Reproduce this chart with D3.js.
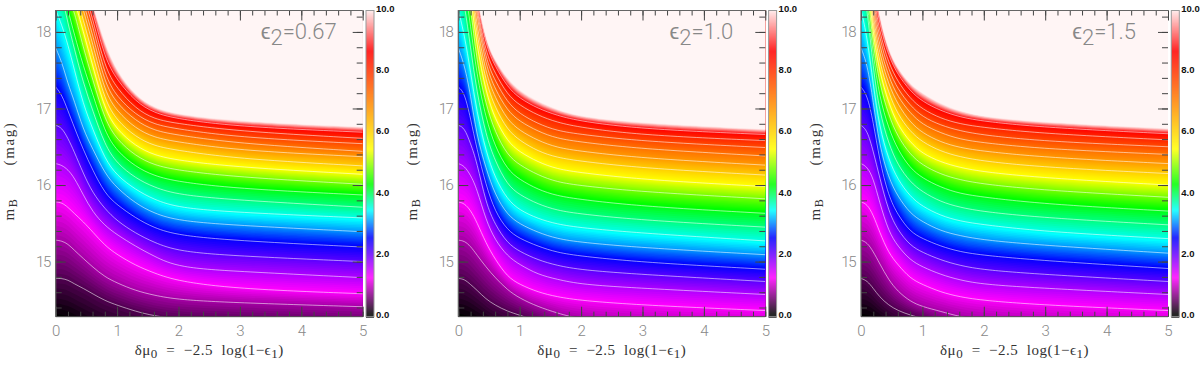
<!DOCTYPE html>
<html>
<head>
<meta charset="utf-8">
<script src="https://cdn.jsdelivr.net/npm/d3@7"></script>
<style>
  body { margin:0; background:#fff; }
  svg { display:block; }
  .tick-label text { font-family:Roboto,"Liberation Sans",sans-serif; font-weight:300; font-size:15px; fill:#888; }
  .axis-title { font-family:"Liberation Serif",serif; font-size:15px; fill:#333; }
  .panel-label { font-family:Roboto,"Liberation Sans",sans-serif; font-weight:300; font-size:22px; fill:#888; }
  .bar-label { font-family:"Liberation Sans",sans-serif; font-size:9.5px; font-weight:bold; fill:#111; }
</style>
</head>
<body>
<script>
// delta mu_0 columns every contour is read at
var deltaMu = [0, 0.1, 0.2, 0.3, 0.45, 0.6, 0.8, 1, 1.3, 1.6, 2, 3, 5];

// colour value carried by each contour row, first row is the black floor, last the pale edge
var zLevels = [0, 0.4, 0.8, 1.2, 1.63, 2.07, 2.5, 3.05, 3.5, 3.85, 4.2, 4.8, 5.4, 6.05, 6.7, 7.2, 7.7, 8.15, 8.6, 10];

// which rows get a white contour line
var whiteRows = d3.range(1, 19);

var floorRow = [14.25, 14.24, 14.22, 14.18, 14.12, 14.06, 14.0, 13.95, 13.9, 13.88, 13.85, 13.8, 13.75];

// m_B of the contours, panel by panel, rows bottom to top
var magsA = [
  floorRow,
  [14.78, 14.78, 14.76, 14.71, 14.65, 14.58, 14.49, 14.43, 14.35, 14.29, 14.25, 14.22, 14.15],
  [15.28, 15.27, 15.23, 15.15, 15.04, 14.93, 14.80, 14.72, 14.62, 14.56, 14.50, 14.46, 14.41],
  [15.78, 15.77, 15.71, 15.63, 15.52, 15.39, 15.21, 15.09, 14.95, 14.85, 14.74, 14.64, 14.58],
  [16.28, 16.26, 16.20, 16.10, 15.87, 15.65, 15.47, 15.35, 15.20, 15.07, 14.92, 14.87, 14.79],
  [16.78, 16.75, 16.61, 16.44, 16.15, 15.90, 15.69, 15.53, 15.37, 15.25, 15.13, 15.07, 15.00],
  [17.28, 17.18, 16.97, 16.76, 16.46, 16.20, 15.89, 15.74, 15.57, 15.44, 15.34, 15.27, 15.19],
  [17.79, 17.61, 17.32, 17.11, 16.72, 16.48, 16.15, 15.96, 15.76, 15.63, 15.53, 15.47, 15.39],
  [18.29, 18.09, 17.83, 17.52, 17.05, 16.74, 16.34, 16.12, 15.94, 15.81, 15.70, 15.64, 15.57],
  [18.79, 18.48, 18.11, 17.79, 17.33, 16.98, 16.52, 16.28, 16.09, 15.97, 15.87, 15.80, 15.71],
  [19.00, 18.66, 18.28, 17.98, 17.55, 17.20, 16.69, 16.44, 16.24, 16.12, 16.04, 15.95, 15.87],
  [19.18, 18.83, 18.48, 18.28, 17.79, 17.39, 16.85, 16.59, 16.38, 16.26, 16.19, 16.10, 16.01],
  [19.35, 19.00, 18.66, 18.44, 18.00, 17.57, 16.98, 16.72, 16.51, 16.39, 16.32, 16.23, 16.14],
  [19.50, 19.18, 18.81, 18.59, 18.15, 17.72, 17.10, 16.84, 16.63, 16.51, 16.45, 16.34, 16.25],
  [19.66, 19.33, 18.96, 18.74, 18.28, 17.86, 17.21, 16.96, 16.74, 16.62, 16.56, 16.45, 16.37],
  [19.81, 19.48, 19.11, 18.87, 18.37, 17.98, 17.32, 17.06, 16.84, 16.71, 16.65, 16.54, 16.44],
  [19.96, 19.63, 19.24, 19.00, 18.47, 18.10, 17.42, 17.15, 16.92, 16.79, 16.73, 16.62, 16.54],
  [20.09, 19.79, 19.37, 19.13, 18.57, 18.19, 17.53, 17.26, 17.00, 16.86, 16.80, 16.70, 16.61],
  [20.22, 19.92, 19.50, 19.26, 18.68, 18.28, 17.65, 17.37, 17.09, 16.94, 16.86, 16.76, 16.69],
  [20.35, 20.05, 19.63, 19.40, 18.79, 18.37, 17.85, 17.48, 17.17, 17.01, 16.92, 16.83, 16.76]
];

var magsB = [
  floorRow,
  [14.78, 14.77, 14.70, 14.63, 14.51, 14.43, 14.35, 14.30, 14.22, 14.15, 14.06, 14.00, 13.91],
  [15.28, 15.27, 15.20, 15.09, 14.93, 14.79, 14.63, 14.52, 14.41, 14.33, 14.24, 14.18, 14.11],
  [15.78, 15.76, 15.67, 15.52, 15.24, 15.03, 14.80, 14.70, 14.60, 14.54, 14.49, 14.43, 14.36],
  [16.28, 16.25, 16.13, 15.96, 15.54, 15.28, 15.07, 14.96, 14.83, 14.77, 14.70, 14.65, 14.57],
  [16.78, 16.75, 16.54, 16.31, 15.76, 15.48, 15.24, 15.13, 15.02, 14.95, 14.89, 14.83, 14.74],
  [17.28, 17.21, 16.87, 16.48, 16.00, 15.65, 15.41, 15.30, 15.20, 15.12, 15.07, 14.99, 14.90],
  [17.79, 17.57, 17.18, 16.65, 16.22, 15.87, 15.61, 15.49, 15.38, 15.30, 15.25, 15.18, 15.09],
  [18.29, 17.96, 17.48, 16.96, 16.44, 16.09, 15.81, 15.67, 15.56, 15.49, 15.44, 15.37, 15.27],
  [18.74, 18.37, 17.79, 17.22, 16.65, 16.31, 16.00, 15.87, 15.75, 15.67, 15.62, 15.54, 15.45],
  [19.00, 18.61, 18.09, 17.44, 16.87, 16.50, 16.20, 16.07, 15.94, 15.86, 15.81, 15.72, 15.63],
  [19.18, 18.79, 18.35, 17.61, 17.05, 16.69, 16.39, 16.26, 16.13, 16.04, 15.99, 15.91, 15.82],
  [19.35, 18.96, 18.48, 17.83, 17.21, 16.86, 16.57, 16.43, 16.30, 16.21, 16.16, 16.07, 15.98],
  [19.48, 19.09, 18.61, 17.98, 17.34, 17.01, 16.72, 16.58, 16.44, 16.36, 16.31, 16.22, 16.13],
  [19.61, 19.22, 18.74, 18.09, 17.45, 17.14, 16.85, 16.71, 16.58, 16.49, 16.44, 16.35, 16.26],
  [19.74, 19.35, 18.85, 18.22, 17.55, 17.25, 16.97, 16.83, 16.70, 16.61, 16.56, 16.47, 16.38],
  [19.87, 19.48, 18.96, 18.30, 17.63, 17.36, 17.08, 16.93, 16.80, 16.71, 16.66, 16.57, 16.49],
  [20.00, 19.61, 19.07, 18.35, 17.72, 17.46, 17.18, 17.04, 16.91, 16.82, 16.75, 16.65, 16.58],
  [20.13, 19.74, 19.18, 18.42, 17.81, 17.55, 17.28, 17.13, 17.00, 16.91, 16.83, 16.73, 16.66],
  [20.27, 19.87, 19.29, 18.48, 17.89, 17.63, 17.39, 17.23, 17.09, 16.99, 16.89, 16.81, 16.73]
];

var magsC = [
  floorRow,
  [14.78, 14.75, 14.65, 14.54, 14.43, 14.36, 14.30, 14.26, 14.17, 14.11, 14.04, 13.98, 13.91],
  [15.28, 15.25, 15.13, 14.98, 14.76, 14.61, 14.48, 14.41, 14.35, 14.28, 14.23, 14.17, 14.09],
  [15.78, 15.75, 15.61, 15.39, 15.11, 14.96, 14.78, 14.70, 14.60, 14.54, 14.49, 14.43, 14.36],
  [16.28, 16.24, 16.09, 15.78, 15.39, 15.20, 15.02, 14.93, 14.83, 14.76, 14.70, 14.65, 14.57],
  [16.78, 16.72, 16.44, 16.11, 15.65, 15.41, 15.21, 15.12, 15.02, 14.95, 14.89, 14.83, 14.74],
  [17.28, 17.18, 16.83, 16.33, 15.85, 15.61, 15.39, 15.30, 15.20, 15.13, 15.08, 15.01, 14.91],
  [17.79, 17.59, 17.09, 16.52, 16.09, 15.85, 15.63, 15.52, 15.40, 15.34, 15.28, 15.21, 15.11],
  [18.29, 17.94, 17.31, 16.76, 16.33, 16.07, 15.85, 15.72, 15.60, 15.53, 15.48, 15.39, 15.30],
  [18.74, 18.31, 17.52, 16.96, 16.54, 16.26, 16.04, 15.91, 15.78, 15.71, 15.65, 15.57, 15.48],
  [19.00, 18.39, 17.70, 17.15, 16.74, 16.46, 16.22, 16.09, 15.97, 15.89, 15.84, 15.75, 15.66],
  [19.18, 18.57, 17.83, 17.33, 16.91, 16.63, 16.40, 16.26, 16.14, 16.07, 16.01, 15.93, 15.84],
  [19.35, 18.74, 17.96, 17.48, 17.07, 16.78, 16.56, 16.41, 16.30, 16.23, 16.17, 16.09, 16.00],
  [19.48, 18.87, 18.07, 17.61, 17.20, 16.92, 16.70, 16.56, 16.44, 16.37, 16.31, 16.23, 16.15],
  [19.61, 19.00, 18.18, 17.72, 17.31, 17.05, 16.82, 16.68, 16.56, 16.49, 16.44, 16.36, 16.28],
  [19.74, 19.13, 18.29, 17.82, 17.41, 17.15, 16.94, 16.79, 16.68, 16.60, 16.55, 16.47, 16.40],
  [19.87, 19.26, 18.39, 17.92, 17.50, 17.25, 17.04, 16.89, 16.78, 16.71, 16.65, 16.57, 16.50],
  [20.00, 19.39, 18.50, 18.00, 17.59, 17.35, 17.13, 16.99, 16.87, 16.80, 16.75, 16.67, 16.59],
  [20.13, 19.52, 18.61, 18.09, 17.68, 17.44, 17.23, 17.09, 16.97, 16.89, 16.83, 16.75, 16.67],
  [20.27, 19.66, 18.74, 18.20, 17.76, 17.52, 17.32, 17.20, 17.06, 16.97, 16.89, 16.82, 16.74]
];

var panelMags = [magsA, magsB, magsC];
var panelNames = ["0.67", "1.0", "1.5"];
var xTickValues = [0, 1, 2, 3, 4, 5];
var yTickValues = [15, 16, 17, 18];
var barTickValues = [0, 2, 4, 6, 8, 10];

// colour ramp
var rampStops = [0, 1.2, 2.5, 3.4, 4.25, 5.4, 8.6, 10];
var rampColors = ["#000000", "#ff00ff", "#0000ff", "#00ffff", "#00ff00", "#ffff00", "#ff0000", "#fff5f5"];

var color = d3.scaleLinear().domain(rampStops).range(rampColors).interpolate(d3.interpolateRgb);

var panelLeft = [55.7, 458.3, 861];
var labelInset = [26, 32, 32];
var plotW = 307, plotTop = 10.5, plotBottom = 316.7, barGap = 3.3, barW = 8;

var svg = d3.select("body").append("svg").attr("width", 1200).attr("height", 365);

function drawPanel(i) {
  var rows = panelMags[i];
  var g = svg.append("g").attr("transform", "translate(" + panelLeft[i] + ",0)");

  var x = d3.scaleLinear().domain([0, 5]).range([0, plotW]);
  var y = d3.scaleLinear().domain([14.28, 18.28]).range([plotBottom, plotTop]);

  var clipId = "plot" + i;
  g.append("clipPath").attr("id", clipId).append("rect")
    .attr("x", 0).attr("y", plotTop).attr("width", plotW).attr("height", plotBottom - plotTop);

  var field = g.append("g").attr("clip-path", "url(#" + clipId + ")");
  field.append("rect").attr("x", 0).attr("y", plotTop)
    .attr("width", plotW).attr("height", plotBottom - plotTop).attr("fill", "#000");

  // one scale per column turns a colour value into a magnitude
  var columnScales = deltaMu.map(function(d, c) {
    return d3.scaleLinear().domain(zLevels).range(rows.map(function(r) { return r[c]; }));
  });

  var area = d3.area()
    .x(function(d) { return x(d); })
    .y0(plotTop - 5)
    .curve(d3.curveBasis);

  d3.range(0, 10.001, 0.05).forEach(function(z) {
    area.y1(function(d, c) { return y(columnScales[c](z)); });
    field.append("path").attr("d", area(deltaMu)).attr("fill", color(z));
  });

  var line = d3.line()
    .x(function(d, c) { return x(deltaMu[c]); })
    .y(function(d) { return y(d); })
    .curve(d3.curveBasis);

  field.selectAll(".contour").data(whiteRows).enter().append("path")
    .attr("class", "contour")
    .attr("d", function(r) { return line(rows[r]); })
    .attr("fill", "none")
    .attr("stroke", "#fff")
    .attr("stroke-opacity", 0.55)
    .attr("stroke-width", 1);

  // ticks on all four sides, pointing in
  var minorX = d3.range(0, 5.001, 0.2), minorY = d3.range(14.4, 18.28, 0.2);
  function ticks(axis, move, values, size) {
    var a = g.append("g").attr("transform", move)
      .call(axis.tickValues(values).tickSize(-size).tickSizeOuter(0).tickFormat(""));
    a.select(".domain").remove();
    a.selectAll("line").attr("stroke", "#444");
  }
  ticks(d3.axisBottom(x), "translate(0," + plotBottom + ")", minorX, 5);
  ticks(d3.axisBottom(x), "translate(0," + plotBottom + ")", xTickValues, 10);
  ticks(d3.axisTop(x), "translate(0," + plotTop + ")", minorX, 5);
  ticks(d3.axisTop(x), "translate(0," + plotTop + ")", xTickValues, 10);
  ticks(d3.axisLeft(y), "translate(0,0)", minorY, 6);
  ticks(d3.axisLeft(y), "translate(0,0)", yTickValues, 10);
  ticks(d3.axisRight(y), "translate(" + plotW + ",0)", minorY, 6);
  ticks(d3.axisRight(y), "translate(" + plotW + ",0)", yTickValues, 10);

  // frame
  g.append("path")
    .attr("d", "M0," + plotBottom + "V" + plotTop + "H" + plotW)
    .attr("fill", "none").attr("stroke", "#666").attr("stroke-width", 1.2);
  g.append("path")
    .attr("d", "M0," + plotBottom + "H" + plotW)
    .attr("fill", "none").attr("stroke", "#555").attr("stroke-width", 1);

  // tick labels
  var xl = g.append("g").attr("class", "tick-label").attr("transform", "translate(0," + plotBottom + ")")
    .call(d3.axisBottom(x).tickValues(xTickValues).tickSize(0).tickPadding(9).tickFormat(d3.format("d")));
  xl.select(".domain").remove();
  var yl = g.append("g").attr("class", "tick-label")
    .call(d3.axisLeft(y).tickValues(yTickValues).tickSize(0).tickPadding(6).tickFormat(d3.format("d")));
  yl.select(".domain").remove();
  yl.selectAll("text").style("letter-spacing", "-1.5px");

  // axis titles
  var xt = g.append("text").attr("class", "axis-title")
    .attr("x", plotW / 2).attr("y", 355).attr("text-anchor", "middle").attr("xml:space", "preserve")
    .style("letter-spacing", "0.5px");
  xt.append("tspan").text("\u03b4\u03bc");
  xt.append("tspan").attr("dy", 3).attr("font-size", 13).text("0");
  xt.append("tspan").attr("dy", -3).text("  =  \u22122.5  log(1\u2212\u03f5");
  xt.append("tspan").attr("dy", 3).attr("font-size", 13).text("1");
  xt.append("tspan").attr("dy", -3).text(")");

  var yt = g.append("text").attr("class", "axis-title")
    .attr("transform", "translate(-41.5,171) rotate(-90)")
    .attr("text-anchor", "middle").attr("xml:space", "preserve").style("letter-spacing", "1.6px");
  yt.append("tspan").text("m");
  yt.append("tspan").attr("dy", 3).attr("font-size", 12).text("B");
  yt.append("tspan").attr("dy", -3).text("      (mag)");

  // panel label
  var pl = g.append("text").attr("class", "panel-label")
    .attr("x", plotW - labelInset[i]).attr("y", 39).attr("text-anchor", "end");
  pl.append("tspan").text("\u03f5");
  pl.append("tspan").attr("dy", 6).text("2");
  pl.append("tspan").attr("dy", -6).text("=" + panelNames[i]);

  // colour bar
  var barX = plotW + barGap;
  var barY = d3.scaleLinear().domain([0, 10]).range([314.5, 8.5]);
  var bar = g.append("g");
  d3.range(plotTop, plotBottom, 1).forEach(function(py) {
    var z = Math.max(0, Math.min(10, barY.invert(py + 0.5)));
    bar.append("rect").attr("x", barX).attr("y", py).attr("width", barW).attr("height", 1.2).attr("fill", color(z));
  });
  bar.append("rect").attr("x", barX).attr("y", plotTop).attr("width", barW).attr("height", plotBottom - plotTop)
    .attr("fill", "none").attr("stroke", "#999").attr("stroke-width", 1);
  bar.selectAll(".bar-label").data(barTickValues).enter().append("text")
    .attr("class", "bar-label")
    .attr("x", barX + barW + 2)
    .attr("y", function(d) { return barY(d) + 3.5; })
    .text(d3.format(".1f"));
}

d3.range(3).forEach(drawPanel);
</script>
</body>
</html>
